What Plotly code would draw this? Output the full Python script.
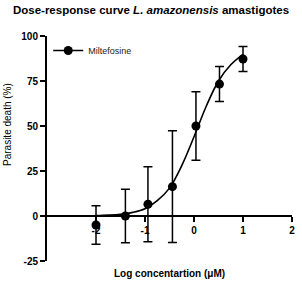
import plotly.graph_objects as go

# Data
log_conc = [-2.0, -1.4, -0.94, -0.44, 0.04, 0.52, 1.0]
death = [-5.0, 0.0, 6.5, 16.3, 50.0, 73.3, 87.2]
death_err = [10.7, 14.8, 20.8, 31.0, 19.0, 9.7, 6.9]

curve_x = [-2.0, -1.75, -1.5, -1.25, -1.0, -0.75, -0.5, -0.25, 0.0, 0.25, 0.5, 0.75, 1.0]
curve_y = [0.2, 0.5, 1.0, 2.0, 4.0, 8.5, 15.5, 28.0, 44.0, 61.0, 75.0, 84.0, 89.8]

x_ticks = [-2, -1, 0, 1, 2]
y_ticks = [-25, 0, 25, 50, 75, 100]

FONT = "Arial, Liberation Sans, sans-serif"

fig = go.Figure()
fig.add_trace(go.Scatter(
    x=curve_x, y=curve_y, mode="lines", line=dict(color="black", width=1.6, shape="spline"),
    showlegend=False, hoverinfo="skip"))
fig.add_trace(go.Scatter(
    x=log_conc, y=death, mode="markers", name="Miltefosine",
    marker=dict(color="black", size=9, symbol="circle"),
    error_y=dict(type="data", array=death_err, visible=True, color="black", thickness=1.5, width=4.5),
    showlegend=False))
# legend entry (line + marker)
fig.add_trace(go.Scatter(
    x=[None], y=[None], mode="lines+markers", name="Miltefosine",
    marker=dict(color="black", size=9), line=dict(color="black", width=1.6)))

fig.update_layout(
    width=302, height=281,
    margin=dict(l=47, r=7, t=36, b=20),
    paper_bgcolor="white", plot_bgcolor="white",
    font=dict(family=FONT, color="black"),
    title=dict(text="<b>Dose-response curve <i>L. amazonensis</i> amastigotes</b>",
               x=0.5, xref="container", xanchor="center",
               y=1 - 10 / 281, yref="container", yanchor="middle",
               font=dict(size=11.5, family=FONT, color="black")),
    showlegend=True,
    legend=dict(x=0.005, y=1.0, xanchor="left", yanchor="top",
                font=dict(size=9, family=FONT, color="#222"),
                bgcolor="rgba(0,0,0,0)", itemwidth=30),
    xaxis=dict(range=[-3, 2], tickvals=x_ticks, ticktext=[str(t) for t in x_ticks],
               showgrid=False, zeroline=False, showline=True, linecolor="black", linewidth=2,
               ticks="outside", ticklen=5, tickwidth=2, tickcolor="black",
               anchor="free", position=0.2,
               tickfont=dict(size=10, family=FONT, color="black", weight="bold")),
    yaxis=dict(range=[-25, 100], tickvals=y_ticks, ticktext=[str(t) for t in y_ticks],
               showgrid=False, zeroline=False, showline=True, linecolor="black", linewidth=2,
               ticks="outside", ticklen=5, tickwidth=2, tickcolor="black",
               tickfont=dict(size=10, family=FONT, color="black", weight="bold")),
    annotations=[
        dict(text="Log concentartion (μM)", xref="paper", yref="paper",
             x=0.5, y=-(273 - 261) / 225, xanchor="center", yanchor="middle",
             showarrow=False, font=dict(size=10, family=FONT, color="black", weight="bold")),
        dict(text="Parasite death (%)", xref="paper", yref="paper",
             x=(7.5 - 47) / 248, y=(261 - 124) / 225, xanchor="center", yanchor="middle",
             textangle=-90, showarrow=False, font=dict(size=10, family=FONT, color="black")),
    ],
)

fig.write_html("out.html")
